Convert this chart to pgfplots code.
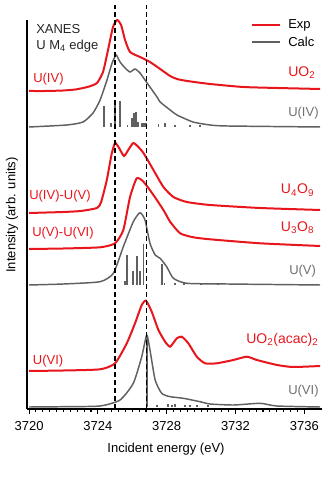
\documentclass[border=0pt]{standalone}
\usepackage{pgfplots}
\pgfplotsset{compat=1.18}
\usepackage{fontspec}
\setmainfont{Liberation Sans}
\definecolor{expred}{HTML}{E8161C}
\definecolor{calcgray}{HTML}{606060}
\definecolor{labgray}{HTML}{707070}
\newcommand{\lab}{\fontsize{9.75}{11}\selectfont}
\newcommand{\biglab}{\fontsize{10.5}{12}\selectfont}
\tikzset{
  expline/.style={expred, line width=1.5pt, smooth, tension=0.35},
  calcline/.style={calcgray, line width=1.1pt, smooth, tension=0.35},
}
\pgfplotsset{
  sticks/.style={calcgray, line width=1.3pt, mark=none, quiver={u=0, v=\thisrow{h}}},
}

\begin{document}
\begin{tikzpicture}
% pixel frame of the reference: (27,409) is the axis corner
\begin{scope}[x=0.75pt, y=-0.75pt, shift={(-20.25pt,306.75pt)}]
  \path[use as bounding box] (0,0) rectangle (332,477);
\end{scope}

\begin{axis}[
  at={(0,0)}, anchor=south west,
  scale only axis, width=221.25pt, height=291.75pt,
  xmin=3719.88, xmax=3737.03, ymin=0, ymax=389,
  axis x line=bottom, axis y line=left,
  axis line style={-, line width=0.9pt, black},
  ytick=\empty,
  xtick={3720,3724,3728,3732,3736},
  xticklabels={3720,3724,3728,3732,3736},
  minor x tick num=9,
  tick align=outside,
  major tick length=4pt, minor tick length=2.3pt,
  every tick/.style={black, line width=0.8pt},
  xticklabel style={font=\lab, yshift=-2pt},
  clip=false,
]
% UO2 experiment
\addplot[expline] coordinates {
(3720.0,318) (3721.0,318) (3722.0,318.5) (3722.7,319.5) (3723.14,321) (3723.5,322.5)
(3723.95,326) (3724.30,337) (3724.59,359) (3724.88,382) (3725.12,389) (3725.35,384)
(3725.58,369) (3725.87,357) (3726.45,352) (3727.03,347) (3727.62,340) (3728.20,333)
(3728.60,330) (3729.19,328) (3730.52,325) (3732.44,322) (3734.42,321) (3736.92,320)};
% U(IV) calculation
\addplot[calcline] coordinates {
(3720.0,282) (3722.2,284) (3723.14,287) (3723.72,296) (3724.13,309) (3724.53,329)
(3724.83,346) (3725.06,354) (3725.29,347) (3725.58,341) (3725.87,337) (3726.16,340)
(3726.45,336) (3726.86,326) (3727.44,312) (3727.62,307) (3728.20,299) (3728.60,294)
(3729.53,287) (3730.52,284) (3731.51,283) (3736.92,282)};
\addplot[sticks] table {
x y h
3724.36 282 21
3724.75 282 4.3
3725.00 282 26
3725.29 282 26.3
3725.72 282 2
3725.97 282 9
3726.10 282 14
3726.22 282 15.3
3726.35 282 5.3
3726.55 282 4.3
3726.69 282 4
3726.80 282 4
3727.52 282 3
3727.91 282 4
3728.49 282 2
3729.36 282 2
3729.94 282 2
};
% U4O9 experiment
\addplot[expline] coordinates {
(3720.0,196) (3722.0,197) (3723.0,198) (3723.95,201) (3724.19,207) (3724.52,229)
(3724.80,255) (3725.00,266) (3725.20,262) (3725.52,253) (3725.80,260) (3726.06,266)
(3726.30,263) (3726.65,256) (3727.23,239) (3727.81,222) (3728.39,212) (3729.17,207)
(3730.52,204) (3733.43,201) (3736.92,199)};
% U3O8 experiment
\addplot[expline] coordinates {
(3720.0,160) (3722.0,160.5) (3724.13,161.7) (3725.00,165.7) (3725.48,179) (3725.87,212)
(3726.26,230.7) (3726.65,227.3) (3727.23,214) (3727.81,199) (3728.20,187.3) (3728.78,175.7)
(3729.55,171.7) (3730.52,169.7) (3733.43,165.7) (3736.92,163)};
% U(V) calculation
\addplot[calcline] coordinates {
(3720.0,124) (3722.0,125) (3724.13,127.3) (3724.90,135.7) (3725.48,162.3) (3726.06,187.3)
(3726.45,196.3) (3726.74,189) (3727.03,165.7) (3727.33,154) (3727.62,150.7) (3728.00,142.3)
(3728.39,130.7) (3729.17,125.7) (3731.51,125) (3736.92,124)};
\addplot[sticks] table {
x y h
3725.58 124 4
3725.68 124 30
3726.03 124 14
3726.26 124 29
3726.45 124 14
3726.65 124 41
3727.71 124 21
3727.87 124 2
3728.50 124 2
3729.00 124 1.5
3730.00 124 1.5
3731.00 124 1.5
};
% UO2(acac)2 experiment
\addplot[expline] coordinates {
(3720.0,38) (3722.0,38.5) (3724.13,39.7) (3725.00,45.7) (3725.68,65.7) (3726.16,85.7)
(3726.55,104) (3726.80,108.3) (3727.13,97.3) (3727.52,79) (3727.91,67.3) (3728.20,62.3)
(3728.59,70.7) (3728.88,72.3) (3729.26,65.7) (3729.75,52.3) (3730.23,45.7) (3730.91,45.7)
(3731.88,49) (3732.66,52.3) (3733.24,49) (3734.42,44) (3735.35,42) (3736.92,43)};
% U(VI) calculation
\addplot[calcline] coordinates {
(3720.0,2) (3722.0,2.3) (3724.13,3) (3725.29,9) (3726.06,25.7) (3726.55,52.3)
(3726.84,74) (3727.03,59) (3727.33,29) (3727.71,15.7) (3728.20,12.3) (3728.97,10.7)
(3729.94,7.3) (3730.52,5) (3731.9,4) (3733.43,5.7) (3734.4,3) (3736.92,2)};
\addplot[sticks] table {
x y h
3726.84 2 72
3727.42 2 2
3728.08 2 2.5
3728.31 2 2
3728.49 2 2.5
3729.07 2 2
3729.36 2 2
3729.77 2 2
3730.41 2 2
};
% reference energies
\addplot[black, line width=0.9pt, dash pattern=on 3.5pt off 2.5pt] coordinates {(3725.0,0) (3725.0,404)};
\addplot[black, line width=0.9pt, dash pattern=on 3.5pt off 2.5pt] coordinates {(3726.82,0) (3726.82,404)};
\end{axis}

\begin{scope}[x=0.75pt, y=-0.75pt, shift={(-20.25pt,306.75pt)}]
  % legend
  \draw[expred, line width=1.5pt] (252,25) -- (280,25);
  \draw[calcgray, line width=1.1pt] (252,42) -- (280,42);
  \node[anchor=base west, inner sep=0pt, font=\lab] at (288,29) {Exp};
  \node[anchor=base west, inner sep=0pt, font=\lab] at (288,46.7) {Calc};
  % panel labels
  \node[anchor=base west, inner sep=0pt, font=\lab, text=black!85] at (36,34) {XANES};
  \node[anchor=base west, inner sep=0pt, font=\lab, text=black!85] at (36,49.3) {U M\textsubscript{4} edge};
  \node[anchor=base west, inner sep=0pt, font=\lab, text=expred] at (33,82.5) {U(IV)};
  \node[anchor=base west, inner sep=0pt, font=\lab, text=expred] at (29,200) {U(IV)-U(V)};
  \node[anchor=base west, inner sep=0pt, font=\lab, text=expred] at (32,236.7) {U(V)-U(VI)};
  \node[anchor=base west, inner sep=0pt, font=\lab, text=expred] at (32.7,364.3) {U(VI)};
  \node[anchor=base west, inner sep=0pt, font=\biglab, text=expred] at (288,76.5) {UO\textsubscript{2}};
  \node[anchor=base west, inner sep=0pt, font=\biglab, text=expred] at (280.7,194) {U\textsubscript{4}O\textsubscript{9}};
  \node[anchor=base west, inner sep=0pt, font=\biglab, text=expred] at (280.7,231.7) {U\textsubscript{3}O\textsubscript{8}};
  \node[anchor=base west, inner sep=0pt, font=\biglab, text=expred] at (246,343.3) {UO\textsubscript{2}(acac)\textsubscript{2}};
  \node[anchor=base west, inner sep=0pt, font=\lab, text=labgray] at (288,117) {U(IV)};
  \node[anchor=base west, inner sep=0pt, font=\lab, text=labgray] at (289,275) {U(V)};
  \node[anchor=base west, inner sep=0pt, font=\lab, text=labgray] at (288,395) {U(VI)};
  % axis titles
  \node[anchor=base, inner sep=0pt, font=\lab] at (166,452.7) {Incident energy (eV)};
  \node[anchor=base, inner sep=0pt, font=\lab, rotate=90] at (15.3,215) {Intensity (arb. units)};
\end{scope}
\end{tikzpicture}
\end{document}
